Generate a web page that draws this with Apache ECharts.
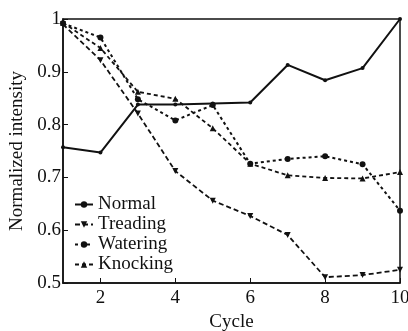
<!DOCTYPE html>
<html><head><meta charset="utf-8">
<script src="https://cdn.jsdelivr.net/npm/echarts@6/dist/echarts.min.js"></script>
<style>html,body{margin:0;padding:0;background:#fff}#c{width:408px;height:331px}</style>
</head><body><div id="c"></div>
<script>
const cycles = [1,2,3,4,5,6,7,8,9,10];
const normal   = [0.757,0.747,0.838,0.838,0.840,0.842,0.913,0.884,0.907,1.000];
const treading = [0.990,0.922,0.821,0.712,0.656,0.627,0.591,0.511,0.515,0.525];
const watering = [0.992,0.965,0.848,0.808,0.837,0.726,0.735,0.740,0.725,0.637];
const knocking = [0.993,0.945,0.862,0.849,0.793,0.726,0.704,0.699,0.698,0.710];
const seriesNames = ['Normal','Treading','Watering','Knocking'];
const xTicks = [2,4,6,8,10];
const yTicks = [0.5,0.6,0.7,0.8,0.9,1];

const font = 'Liberation Serif';
function mk(name, data, sym, type, w, size){
  return {name, type:'line', data: cycles.map((c,i)=>[c,data[i]]),
    symbol: sym, symbolSize: size, showSymbol:true,
    lineStyle:{color:'#111', width:w, type:type},
    itemStyle:{color:'#111'}};
}
const chart = echarts.init(document.getElementById('c'));
chart.setOption({
  animation:false,
  grid:{left:63,right:8,top:19,bottom:48,show:true,borderColor:'#111',borderWidth:1.5,
    backgroundColor:'transparent',containLabel:false,outerBoundsMode:'none'},
  legend:{orient:'vertical',left:69,top:190,itemGap:1,itemWidth:18,itemHeight:8,
    textStyle:{fontFamily:font,fontSize:19,lineHeight:19,color:'#111',padding:[0,0,0,0]},
    data:seriesNames},
  xAxis:{type:'value',min:1,max:10,interval:1,
    name:'Cycle',nameLocation:'middle',nameGap:30,
    nameTextStyle:{fontFamily:font,fontSize:19,color:'#111'},
    axisLine:{lineStyle:{color:'#111',width:1.5}},
    axisTick:{inside:true,length:5,customValues:xTicks,lineStyle:{color:'#111'}},
    axisLabel:{fontFamily:font,fontSize:19,color:'#111',margin:6,customValues:xTicks},
    splitLine:{show:false}},
  yAxis:{type:'value',min:0.5,max:1,interval:0.1,
    name:'Normalized intensity',nameLocation:'middle',nameGap:36,
    nameTextStyle:{fontFamily:font,fontSize:19,color:'#111'},
    axisLine:{lineStyle:{color:'#111',width:1.5}},
    axisTick:{inside:true,length:5,lineStyle:{color:'#111'}},
    axisLabel:{fontFamily:font,fontSize:19,color:'#111',margin:2,
      formatter:v=>{const t=yTicks.find(x=>Math.abs(x-v)<1e-6);return t===undefined?'':(t===1?'1':t.toFixed(1));}},
    splitLine:{show:false}},
  series:[
    mk('Normal',normal,'circle','solid',2,4),
    mk('Treading',treading,'path://M0,0 L10,0 L5,10 Z',[5,3],1.8,6),
    mk('Watering',watering,'circle',[3,3],2,6),
    mk('Knocking',knocking,'triangle',[4,3],1.8,6)
  ]
});
</script></body></html>
